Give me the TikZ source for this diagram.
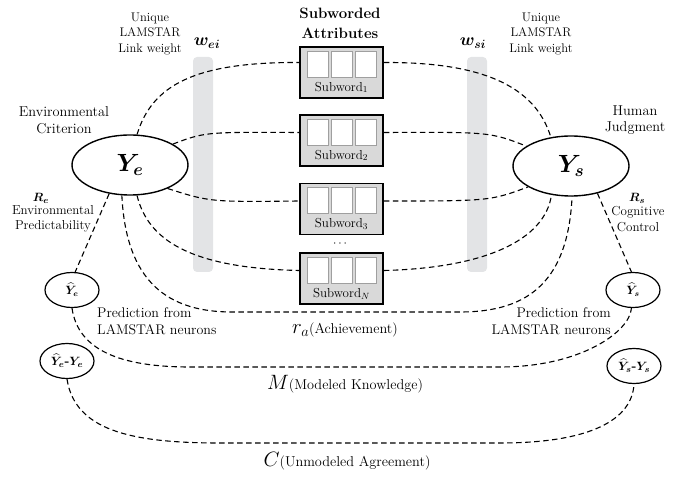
\documentclass[tikz,border=0pt]{standalone}
\usepackage{amsmath,bm}
\usetikzlibrary{shapes.geometric}
\definecolor{swgray}{HTML}{D9D9D9}
\definecolor{bargray}{HTML}{E3E4E6}
\tikzset{
  dl/.style={dash pattern=on 5.5pt off 3.5pt, line width=1.1pt},
  bigell/.style={ellipse, draw, line width=1.4pt, minimum width=116pt, minimum height=60pt, inner sep=0pt},
  smell/.style={ellipse, draw, line width=1.2pt, minimum width=54pt, minimum height=35pt, inner sep=0pt},
  swbox/.style={draw, line width=1.9pt, fill=swgray, minimum width=83pt, minimum height=51pt, inner sep=0pt},
  cell/.style={draw=gray!75, line width=0.8pt, fill=white, minimum width=21pt, minimum height=26pt, inner sep=0pt},
  bar/.style={fill=bargray, rounded corners=4pt},
  body/.style={font=\fontsize{14.3}{16.5}\selectfont, align=center, inner sep=0pt},
  small/.style={font=\fontsize{13}{15.5}\selectfont, align=center, inner sep=0pt},
  tiny/.style={font=\fontsize{12.5}{15.8}\selectfont, align=center, inner sep=0pt},
}
\begin{document}
\begin{tikzpicture}[x=1pt,y=-1pt]
\useasboundingbox (0,0) rectangle (694,478);
% gray bars
\fill[bar] (193,57) rectangle (213,272);
\fill[bar] (467,57) rectangle (487,272);
% main ellipses
\node[bigell] (Ye) at (130,165) {\fontsize{25}{25}\selectfont$\bm{Y_e}$};
\node[bigell] (Ys) at (571,166) {\fontsize{25}{25}\selectfont$\bm{Y_s}$};
% small ellipses
\node[smell] (ye) at (72,290) {\fontsize{12}{12}\selectfont$\bm{\widehat{Y}_e}$};
\node[smell] (yd) at (67,361) {\fontsize{13}{13}\selectfont$\bm{\widehat{Y}_e}$\textbf{-}$\bm{Y_e}$};
\node[smell] (ys) at (633,290) {\fontsize{12}{12}\selectfont$\bm{\widehat{Y}_s}$};
\node[smell] (sd) at (634,366) {\fontsize{13}{13}\selectfont$\bm{\widehat{Y}_s}$\textbf{-}$\bm{Y_s}$};
% subword boxes
\foreach \n/\yy/\s in {b1/72.5/1, b2/140.5/2, b3/209/3, b4/278.5/N}{
  \node[swbox] (\n) at (341.5,\yy) {};
  \node[cell] (\n c1) at ([xshift=-24pt,yshift=8.5pt]\n.center) {};
  \node[cell] (\n c2) at ([yshift=8.5pt]\n.center) {};
  \node[cell] (\n c3) at ([xshift=24pt,yshift=8.5pt]\n.center) {};
  \node[font=\fontsize{13}{13}\selectfont, inner sep=0pt] (\n t) at ([yshift=-15pt]\n.center) {Subword$_{\s}$};
}
\node[font=\fontsize{12}{12}\selectfont, inner sep=0pt] (dots) at (341,244) {$\cdots$};
% headings and labels
\node[font=\bfseries\fontsize{15}{20}\selectfont, align=center, inner sep=0pt] (head) at (340,23) {Subworded\\Attributes};
\node[font=\fontsize{17}{17}\selectfont, inner sep=0pt] (wei) at (207,43) {$\bm{w_{ei}}$};
\node[font=\fontsize{17}{17}\selectfont, inner sep=0pt] (wsi) at (473,43) {$\bm{w_{si}}$};
\node[tiny] (ul) at (150,34) {Unique\\LAMSTAR\\Link weight};
\node[tiny] (ur) at (541,34) {Unique\\LAMSTAR\\Link weight};
\node[body] (envc) at (64,120) {Environmental\\Criterion};
\node[body] (humj) at (635,120) {Human\\Judgment};
\node[font=\fontsize{13}{13}\selectfont, inner sep=0pt] (Re) at (41,198) {$\bm{R_e}$};
\node[small] (envp) at (53,219) {Environmental\\Predictability};
\node[font=\fontsize{13}{13}\selectfont, inner sep=0pt] (Rs) at (637,198) {$\bm{R_s}$};
\node[small] (cogc) at (638,219) {Cognitive\\Control};
\node[body, font=\fontsize{14}{16.5}\selectfont, anchor=west, align=left] (predl) at (97,321) {Prediction from\\LAMSTAR neurons};
\node[body, font=\fontsize{14}{16.5}\selectfont, anchor=east, align=right] (predr) at (611,321) {Prediction from\\LAMSTAR neurons};
\node[body] (ra) at (345,330) {{\fontsize{21}{21}\selectfont$r_a$}(Achievement)};
\node[body] (M) at (345,384) {{\fontsize{21}{21}\selectfont$M$}(Modeled Knowledge)};
\node[body] (C) at (347,461) {{\fontsize{21}{21}\selectfont$C$}(Unmodeled Agreement)};
% connectors
\draw[dl] (Ye.77) .. controls (152,85) and (195,62) .. ([yshift=10pt]b1.west);
\draw[dl] ([yshift=10pt]b1.east) .. controls (480,62) and (535,85) .. (Ys.125);
\draw[dl] (Ye.26) .. controls (205,132) .. ([yshift=8pt]b2.west);
\draw[dl] ([yshift=8pt]b2.east) .. controls (490,132) .. (Ys.156);
\draw[dl] (Ye.-32) .. controls (210,202) .. ([yshift=8pt]b3.west);
\draw[dl] ([yshift=8pt]b3.east) .. controls (490,201) .. (Ys.-154);
\draw[dl] (Ye.-77) .. controls (148,240) and (190,268) .. ([yshift=8pt]b4.west);
\draw[dl] ([yshift=8pt]b4.east) .. controls (485,268) and (545,240) .. (Ys.-124);
\draw[dl] (Ye.-105) .. controls (126,282) and (168,312) .. (232,312) -- (460,312) .. controls (530,312) and (568,280) .. (Ys.-88);
\draw[dl] (Ye.-126) -- (ye.80);
\draw[dl] (Ys.-46) -- (ys.95);
\draw[dl] (ye.-90) .. controls (78,350) and (120,367) .. (190,367) -- (500,367) .. controls (580,367) and (630,332) .. (ys.-95);
\draw[dl] (yd.-90) .. controls (75,430) and (130,443) .. (220,443) -- (500,443) .. controls (590,443) and (632,420) .. (sd.-90);
\end{tikzpicture}
\end{document}
